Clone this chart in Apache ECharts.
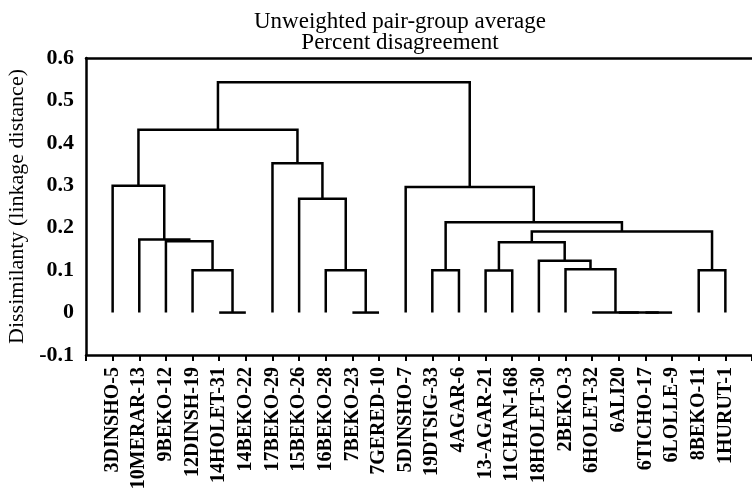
<!DOCTYPE html>
<html>
<head>
<meta charset="utf-8">
<script src="https://cdn.jsdelivr.net/npm/echarts@6/dist/echarts.min.js"></script>
<style>
  html, body { margin: 0; padding: 0; background: #ffffff; }
  #main { width: 752px; height: 497px; }
</style>
</head>
<body>
<div id="main"></div>
<script>
// leaves, left to right
var leafNames = ['3DINSHO-5', '10MERAR-13', '9BEKO-12', '12DINSH-19', '14HOLET-31', '14BEKO-22',
    '17BEKO-29', '15BEKO-26', '16BEKO-28', '7BEKO-23', '7GERED-10', '5DINSHO-7',
    '19DTSIG-33', '4AGAR-6', '13-AGAR-21', '11CHAN-168', '18HOLET-30', '2BEKO-3',
    '6HOLET-32', '6ALI20', '6TICHO-17', '6LOLLE-9', '8BEKO-11', '1HURUT-1'];

// joins: ids < 24 are leaves, id 24+k is join k
var joins = [[4, 5], [3, 24], [2, 25], [1, 26], [0, 27],
    [9, 10], [8, 29], [7, 30], [6, 31], [28, 32],
    [12, 13], [14, 15], [20, 21], [19, 36], [18, 37],
    [17, 38], [16, 39], [35, 40], [22, 23], [41, 42],
    [34, 43], [11, 44], [33, 45]];
var joinHeights = [0, 0.1, 0.168, 0.172, 0.299,
    0, 0.1, 0.268, 0.352, 0.431,
    0.1, 0.099, 0, 0, 0,
    0.102, 0.122, 0.166, 0.1, 0.191,
    0.213, 0.296, 0.543];

var yTicks = ['-0.1', '0', '0.1', '0.2', '0.3', '0.4', '0.5', '0.6'];

// node positions: x from leaf order, y = join height
var nodeX = [], nodeY = [];
for (var i = 0; i < leafNames.length; i++) {
    nodeX.push(i);
    nodeY.push(0);
}
var links = [];
for (var k = 0; k < joins.length; k++) {
    var a = joins[k][0], b = joins[k][1];
    links.push([nodeX[a], nodeY[a], nodeX[b], nodeY[b], joinHeights[k]]);
    nodeX.push((nodeX[a] + nodeX[b]) / 2);
    nodeY.push(joinHeights[k]);
}

var serif = 'Liberation Serif';
var myChart = echarts.init(document.getElementById('main'));
var option = {
    backgroundColor: '#ffffff',
    animation: false,
    title: {
        text: 'Unweighted pair-group average\nPercent disagreement',
        left: 395,
        top: 6,
        textAlign: 'center',
        textStyle: {
            color: '#000',
            fontFamily: serif,
            fontWeight: 'normal',
            fontSize: 23,
            lineHeight: 21
        }
    },
    grid: {
        left: 86,
        right: 0,
        top: 58,
        bottom: 142,
        outerBoundsMode: 'none'
    },
    xAxis: [
        {
            type: 'value',
            min: -1,
            max: 24,
            interval: 1,
            position: 'bottom',
            axisLine: { show: true, onZero: false, lineStyle: { color: '#000', width: 2.5 } },
            axisTick: { show: true, length: 6, lineStyle: { color: '#000', width: 2 } },
            splitLine: { show: false },
            axisLabel: {
                rotate: 90,
                margin: 12,
                color: '#000',
                fontFamily: serif,
                fontWeight: 'bold',
                fontSize: 20,
                showMinLabel: true,
                showMaxLabel: true,
                formatter: function (v) {
                    return leafNames[v] || '';
                }
            }
        },
        {
            type: 'value',
            min: -1,
            max: 24,
            position: 'top',
            axisLine: { show: true, onZero: false, lineStyle: { color: '#000', width: 2.5 } },
            axisTick: { show: false },
            axisLabel: { show: false },
            splitLine: { show: false }
        }
    ],
    yAxis: {
        type: 'value',
        min: -0.1,
        max: 0.6,
        interval: 0.1,
        name: 'Dissimilanty (linkage distance)',
        nameLocation: 'middle',
        nameGap: 53,
        nameTextStyle: {
            color: '#000',
            fontFamily: serif,
            fontSize: 22
        },
        axisLine: { show: true, onZero: false, lineStyle: { color: '#000', width: 2.5 } },
        axisTick: { show: false },
        splitLine: { show: false },
        axisLabel: {
            margin: 12,
            color: '#000',
            fontFamily: serif,
            fontWeight: 'bold',
            fontSize: 22,
            formatter: function (v) {
                return yTicks[Math.round(v * 10) + 1];
            }
        }
    },
    series: [
        {
            type: 'custom',
            xAxisIndex: 0,
            clip: false,
            silent: true,
            data: links,
            renderItem: function (params, api) {
                var p1 = api.coord([api.value(0), api.value(1)]);
                var p2 = api.coord([api.value(0), api.value(4)]);
                var p3 = api.coord([api.value(2), api.value(4)]);
                var p4 = api.coord([api.value(2), api.value(3)]);
                return {
                    type: 'polyline',
                    shape: { points: [p1, p2, p3, p4] },
                    style: { stroke: '#000', lineWidth: 2.5, fill: null }
                };
            }
        }
    ]
};
myChart.setOption(option);
</script>
</body>
</html>
